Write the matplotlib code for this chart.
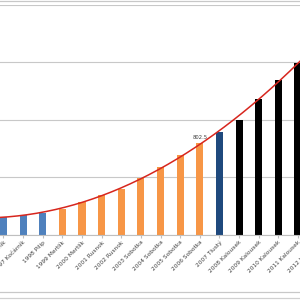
import numpy as np
import matplotlib
matplotlib.use("Agg")
import matplotlib.pyplot as plt
from matplotlib.lines import Line2D

# statni dluh (mld. Kc) podle roku a ministra financi
years = [1993, 1994, 1995, 1996, 1997, 1998, 1999, 2000, 2001, 2002,
         2003, 2004, 2005, 2006, 2007, 2008, 2009, 2010, 2011, 2012]
ministers = ["Kočárník", "Kočárník", "Kočárník", "Kočárník", "Kočárník", "Pilip",
             "Mertlík", "Mertlík", "Rusnok", "Rusnok", "Sobotka", "Sobotka",
             "Sobotka", "Sobotka", "Tlustý", "Kalousek", "Kalousek", "Kalousek",
             "Kalousek", "Kalousek"]
debt = [158.8, 157.3, 154.4, 155.2, 173.1, 194.7, 228.4, 289.3, 345.0, 395.9,
        493.2, 592.9, 691.2, 802.5, 892.3, 999.8, 1178.2, 1344.1, 1499.4, 1667.6]
party_color = {"Kočárník": "#4F81BD", "Pilip": "#4F81BD", "Mertlík": "#F79646",
               "Rusnok": "#F79646", "Sobotka": "#F79646", "Tlustý": "#1F497D",
               "Kalousek": "#000000"}
labelled_year = 2006

labels = [f"{y} {m}" for y, m in zip(years, ministers)]
colors = [party_color[m] for m in ministers]

fig = plt.figure(figsize=(3, 3), dpi=100)
# the visible picture is a crop of a wider chart
ax = fig.add_axes([-0.2174, 0.2167, 1.3087, 0.7667])

x = np.arange(len(years))
ax.bar(x, debt, width=0.36, color=colors, zorder=2)

# polynomial trendline
coef = np.polyfit(x, debt, 2)
xs = np.linspace(x[0], x[-1], 200)
ax.plot(xs, np.polyval(coef, xs), color="#D7261E", lw=1.1, zorder=3)

i = years.index(labelled_year)
ax.text(x[i], debt[i] + 25, f"{debt[i]:.1f}", ha="center", va="bottom",
        fontsize=3.8, color="#404040")

ax.set_xlim(-0.5, len(years) - 0.5)
ax.set_ylim(0, 2000)
ax.set_yticks([0, 500, 1000, 1500, 2000])
ax.yaxis.grid(True, color="#C8C8C8", lw=0.8, zorder=0)
ax.set_axisbelow(True)
for s in ["top", "left", "right"]:
    ax.spines[s].set_visible(False)
ax.spines["bottom"].set_color("#BFBFBF")
ax.tick_params(axis="y", left=False, labelleft=False)
ax.tick_params(axis="x", length=2, color="#BFBFBF", pad=1.5)
ax.set_xticks(x)
ax.set_xticklabels(labels, rotation=45, ha="right", rotation_mode="anchor",
                   fontsize=4.2, color="#404040")

# chart border lines at the edges of the crop
for yy, c in [(0.998, "#C8C8C8"), (0.027, "#C8C8C8"), (0.007, "#D0D0D0")]:
    fig.add_artist(Line2D([0, 1], [yy, yy], color=c, lw=0.9,
                          transform=fig.transFigure))

fig.savefig("out.png", dpi=100)
